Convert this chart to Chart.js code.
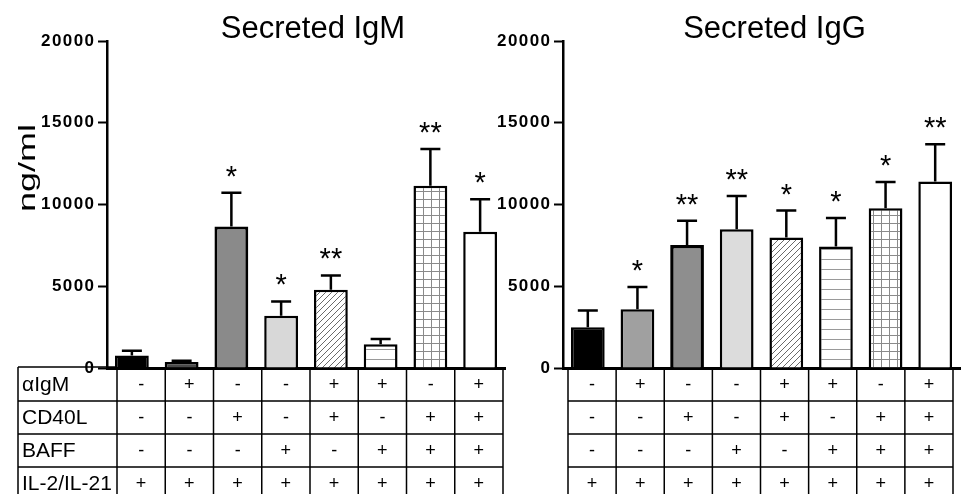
<!DOCTYPE html>
<html>
<head>
<meta charset="utf-8">
<script src="https://cdn.jsdelivr.net/npm/chart.js@4"></script>
<style>
  body { margin: 0; background: #fff; }
  #wrap { position: relative; width: 969px; height: 494px; overflow: hidden; }
  canvas { position: absolute; top: 0; }
  #igm { left: 0; }
  #igg { left: 490px; }
</style>
</head>
<body>
<div id="wrap">
  <canvas id="igm" width="515" height="494"></canvas>
  <canvas id="igg" width="479" height="494"></canvas>
</div>
<script>
// conditions (table under the bars)
const rowLabels = ['\u03b1IgM', 'CD40L', 'BAFF', 'IL-2/IL-21'];
const aIgM    = ['-', '+', '-', '-', '+', '+', '-', '+'];
const cd40l   = ['-', '-', '+', '-', '+', '-', '+', '+'];
const baff    = ['-', '-', '-', '+', '-', '+', '+', '+'];
const il2il21 = ['+', '+', '+', '+', '+', '+', '+', '+'];

// secreted IgM, ng/ml (mean, SEM, significance)
const igmMean  = [770, 370, 8650, 3200, 4780, 1460, 11150, 8340];
const igmSem   = [290, 80, 2070, 870, 880, 310, 2240, 1980];
const igmStars = ['', '', '*', '*', '**', '', '**', '*'];

// secreted IgG, ng/ml
const iggMean  = [2500, 3600, 7530, 8490, 7980, 7430, 9770, 11400];
const iggSem   = [1020, 1350, 1470, 2030, 1650, 1750, 1610, 2280];
const iggStars = ['', '*', '**', '**', '*', '*', '*', '**'];

const yTicks = [0, 5000, 10000, 15000, 20000];

const categories = aIgM.map((v, i) => [v, cd40l[i], baff[i], il2il21[i]].join(''));
const tableRows = [aIgM, cd40l, baff, il2il21];

const FONT = '"Liberation Sans", Arial, sans-serif';

function pattern(kind) {
  const c = document.createElement('canvas');
  const g = c.getContext('2d');
  if (kind === 'diag') {
    c.width = 6; c.height = 6;
    g.fillStyle = '#fff'; g.fillRect(0, 0, 6, 6);
    g.strokeStyle = '#6a6a6a'; g.lineWidth = 1;
    g.beginPath();
    g.moveTo(0, 6); g.lineTo(6, 0);
    g.moveTo(-1, 1); g.lineTo(1, -1);
    g.moveTo(5, 7); g.lineTo(7, 5);
    g.stroke();
  } else if (kind === 'horiz') {
    c.width = 4; c.height = 10;
    g.fillStyle = '#fff'; g.fillRect(0, 0, 4, 10);
    g.strokeStyle = '#999'; g.lineWidth = 1;
    g.beginPath(); g.moveTo(0, 9.5); g.lineTo(4, 9.5); g.stroke();
  } else {
    c.width = 8; c.height = 8;
    g.fillStyle = '#fff'; g.fillRect(0, 0, 8, 8);
    g.strokeStyle = '#8a8a8a'; g.lineWidth = 1;
    g.beginPath();
    g.moveTo(7.5, 0); g.lineTo(7.5, 8);
    g.moveTo(0, 7.5); g.lineTo(8, 7.5);
    g.stroke();
  }
  return g.createPattern(c, 'repeat');
}

const extras = {
  id: 'extras',
  afterDatasetsDraw(chart, args, opts) {
    const ctx = chart.ctx;
    const ds = chart.data.datasets[0];
    const y = chart.scales.y;
    const meta = chart.getDatasetMeta(0);
    ctx.save();
    ctx.strokeStyle = '#000';
    ctx.lineWidth = 2.5;
    ctx.fillStyle = '#000';
    ctx.font = '29px ' + FONT;
    ctx.textAlign = 'center';
    ctx.textBaseline = 'alphabetic';
    meta.data.forEach((bar, i) => {
      const top = y.getPixelForValue(ds.data[i] + opts.sem[i]);
      ctx.beginPath();
      ctx.moveTo(bar.x, bar.y);
      ctx.lineTo(bar.x, top);
      ctx.moveTo(bar.x - 10, top);
      ctx.lineTo(bar.x + 10, top);
      ctx.stroke();
      if (opts.stars[i]) ctx.fillText(opts.stars[i], bar.x, top - 7);
    });
    ctx.restore();
  },
  afterDraw(chart, args, opts) {
    const ctx = chart.ctx;
    const a = chart.chartArea;
    ctx.save();
    ctx.fillStyle = '#000';

    // title
    ctx.font = '31px ' + FONT;
    ctx.textAlign = 'center';
    ctx.textBaseline = 'alphabetic';
    ctx.fillText(opts.title, (a.left + a.right) / 2 + opts.titleDx, 38);

    // y axis title
    if (opts.yTitle) {
      ctx.save();
      ctx.translate(35, 168);
      ctx.rotate(-Math.PI / 2);
      ctx.scale(1.5, 1);
      ctx.font = '24px ' + FONT;
      ctx.fillText(opts.yTitle, 0, 0);
      ctx.restore();
    }

    // condition table
    const top = a.bottom;
    const rowH = 33;
    const L = a.left + opts.tableL;
    const R = a.right - opts.tableR;
    const colW = (R - L) / categories.length;
    const left = opts.labelLeft != null ? opts.labelLeft : L;
    ctx.strokeStyle = '#000';
    ctx.lineWidth = 1.5;
    ctx.beginPath();
    for (let r = 1; r <= tableRows.length; r++) {
      ctx.moveTo(left, top + r * rowH);
      ctx.lineTo(R, top + r * rowH);
    }
    for (let c = 0; c <= categories.length; c++) {
      ctx.moveTo(L + c * colW, top);
      ctx.lineTo(L + c * colW, top + tableRows.length * rowH);
    }
    if (opts.labelLeft != null) {
      ctx.moveTo(left, top - 1);
      ctx.lineTo(L, top - 1);
      ctx.moveTo(left, top - 1);
      ctx.lineTo(left, top + tableRows.length * rowH);
    }
    ctx.stroke();

    ctx.textBaseline = 'middle';
    tableRows.forEach((row, r) => {
      const cy = top + r * rowH + rowH / 2 + 1;
      ctx.font = '18px ' + FONT;
      ctx.textAlign = 'center';
      row.forEach((s, c) => ctx.fillText(s, L + c * colW + colW / 2, cy));
      if (opts.labelLeft != null) {
        ctx.textAlign = 'left';
        ctx.font = '21px ' + FONT;
        ctx.fillText(rowLabels[r], left + 4, cy);
      }
    });
    ctx.restore();
  }
};

function makeChart(id, mean, fills, widths, ext, yWidth) {
  return new Chart(document.getElementById(id), {
    type: 'bar',
    data: {
      labels: categories,
      datasets: [{
        data: mean,
        backgroundColor: fills,
        borderColor: '#000',
        borderWidth: widths,
        borderSkipped: 'start',
        barPercentage: 0.68,
        categoryPercentage: 1
      }]
    },
    options: {
      responsive: false,
      animation: false,
      events: [],
      layout: { padding: { top: 41, right: ext.padRight, bottom: 126, left: 0 } },
      plugins: {
        legend: { display: false },
        tooltip: { enabled: false },
        title: { display: false },
        extras: ext
      },
      scales: {
        x: {
          ticks: { display: false },
          grid: { display: false },
          border: { display: true, color: '#000', width: 3 },
          afterFit: s => { s.height = 0; }
        },
        y: {
          min: 0,
          max: 20000,
          afterBuildTicks: s => { s.ticks = yTicks.map(v => ({ value: v })); },
          ticks: {
            color: '#000',
            padding: 4,
            font: { family: FONT, size: 17, weight: 'bold' },
            callback: v => String(v).split('').join('\u200a')
          },
          grid: {
            display: true,
            drawOnChartArea: false,
            drawTicks: true,
            tickLength: 9,
            tickWidth: 2,
            tickColor: '#000'
          },
          border: { display: true, color: '#000', width: 2.5 },
          afterFit: s => { s.width = yWidth; }
        }
      }
    },
    plugins: [extras]
  });
}

makeChart('igm', igmMean,
  ['#000', '#4a4a4a', '#8a8a8a', '#d8d8d8', pattern('diag'), pattern('horiz'), pattern('grid'), '#fff'],
  [2.5, 2.5, 3, 2.5, 2.5, 2.5, 2.5, 2.5],
  { title: 'Secreted IgM', titleDx: 7, yTitle: 'ng/ml', sem: igmSem, stars: igmStars,
    tableL: 10, tableR: 2, labelLeft: 18, padRight: 10 },
  107);

makeChart('igg', iggMean,
  ['#000', '#a0a0a0', '#8e8e8e', '#dcdcdc', pattern('diag'), pattern('horiz'), pattern('grid'), '#fff'],
  [2.5, 2.5, 3.5, 2.5, 2.5, 2.5, 2.5, 2.5],
  { title: 'Secreted IgG', titleDx: 13, yTitle: '', sem: iggSem, stars: iggStars,
    tableL: 5, tableR: 7, labelLeft: null, padRight: 9 },
  73);
</script>
</body>
</html>
